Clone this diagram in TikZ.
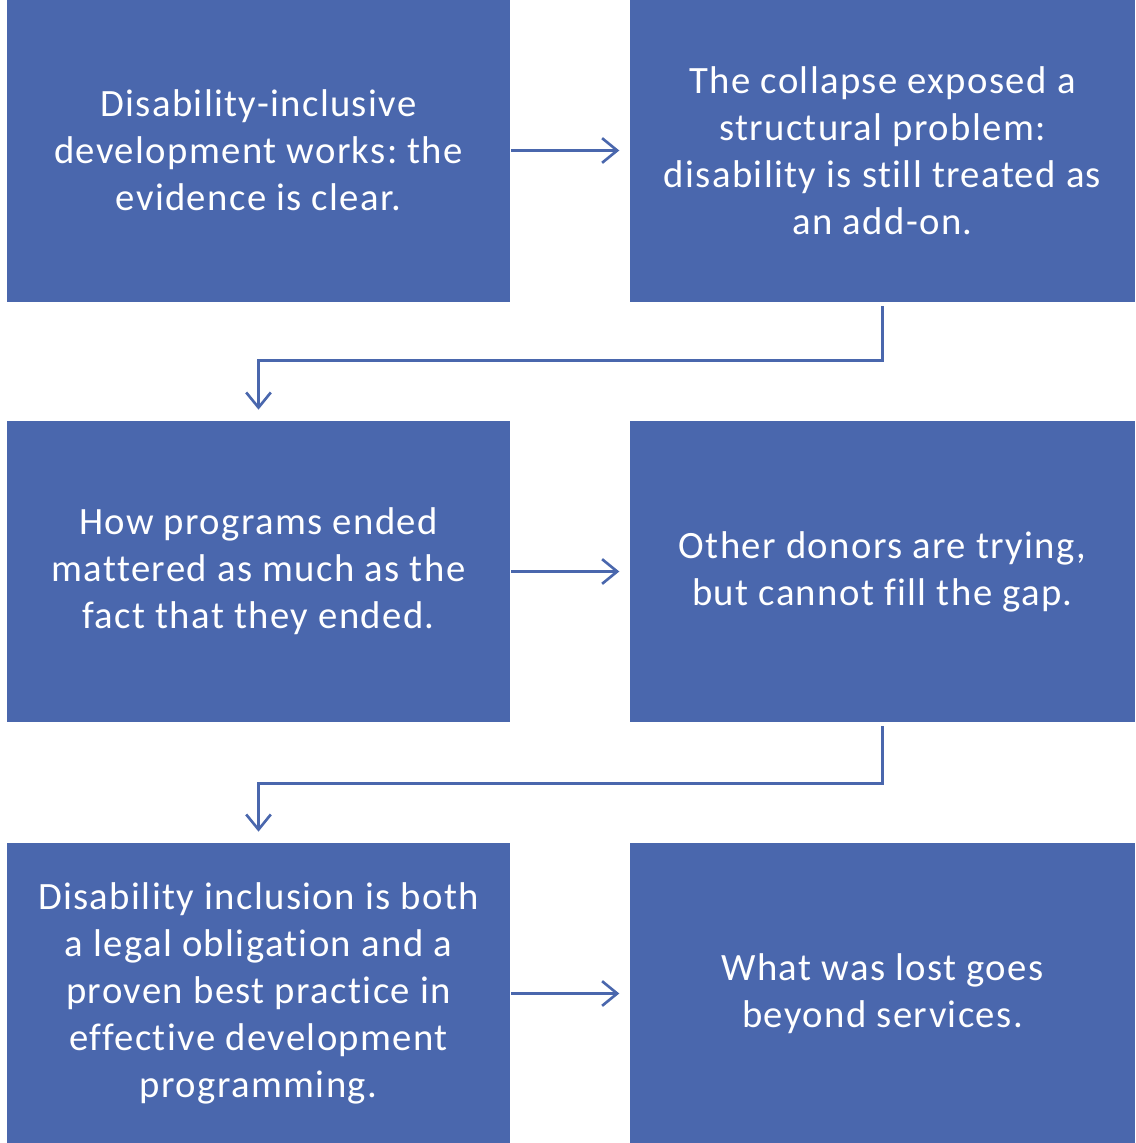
\documentclass[tikz,border=0pt]{standalone}
\usepackage{fontspec}
\setmainfont{Carlito}[Ligatures={NoCommon}, LetterSpace=3.6]
\usetikzlibrary{arrows.meta}
\definecolor{boxblue}{RGB}{74,103,173}
\frenchspacing

\begin{document}
\begin{tikzpicture}[
        x=0.01cm, y=-0.01cm,
        box/.style={fill=boxblue, draw=none, text=white, align=center,
            inner sep=0pt, minimum height=3.01cm,
            font=\fontsize{11}{13.4}\selectfont},
        leftbox/.style={box, minimum width=5.03cm},
        rightbox/.style={box, minimum width=5.05cm},
        link/.style={draw=boxblue, line width=0.75pt,
            -{Straight Barb[length=4.3pt,width=7pt,line width=0.75pt]}},
    ]
        \useasboundingbox (0,0) rectangle (1135,1143);
        % row 1
        \node[leftbox, minimum height=3.03cm] (works) at (258.5,150.5)
            {Disability-inclusive\\development works: the\\evidence is clear.};
        \node[rightbox, minimum height=3.03cm] (collapse) at (882.5,150.5)
            {The collapse exposed a\\structural problem:\\disability is still treated as\\an add-on.};
        % row 2
        \node[leftbox] (ended) at (258.5,571.5)
            {How programs ended\\mattered as much as the\\fact that they ended.};
        \node[rightbox] (donors) at (882.5,571.5)
            {Other donors are trying,\\but cannot fill the gap.};
        % row 3
        \node[leftbox] (obligation) at (258.5,993.5)
            {Disability inclusion is both\\a legal obligation and a\\proven best practice in\\effective development\\programming.};
        \node[rightbox] (lost) at (882.5,993.5)
            {What was lost goes\\beyond services.};

        % connectors
        \draw[link, shorten >=2.8pt] (works.east) -- (collapse.west);
        \draw[link, shorten >=2.8pt] (ended.east) -- (donors.west);
        \draw[link, shorten >=2.8pt] (obligation.east) -- (lost.west);
        \draw[link, shorten <=1pt, shorten >=3pt] (collapse.south) -- ++(0,58) -| (works.south |- ended.north);
        \draw[link, shorten <=1pt, shorten >=3pt] (donors.south) -- ++(0,61) -| (ended.south |- obligation.north);
    \end{tikzpicture}
\end{document}
